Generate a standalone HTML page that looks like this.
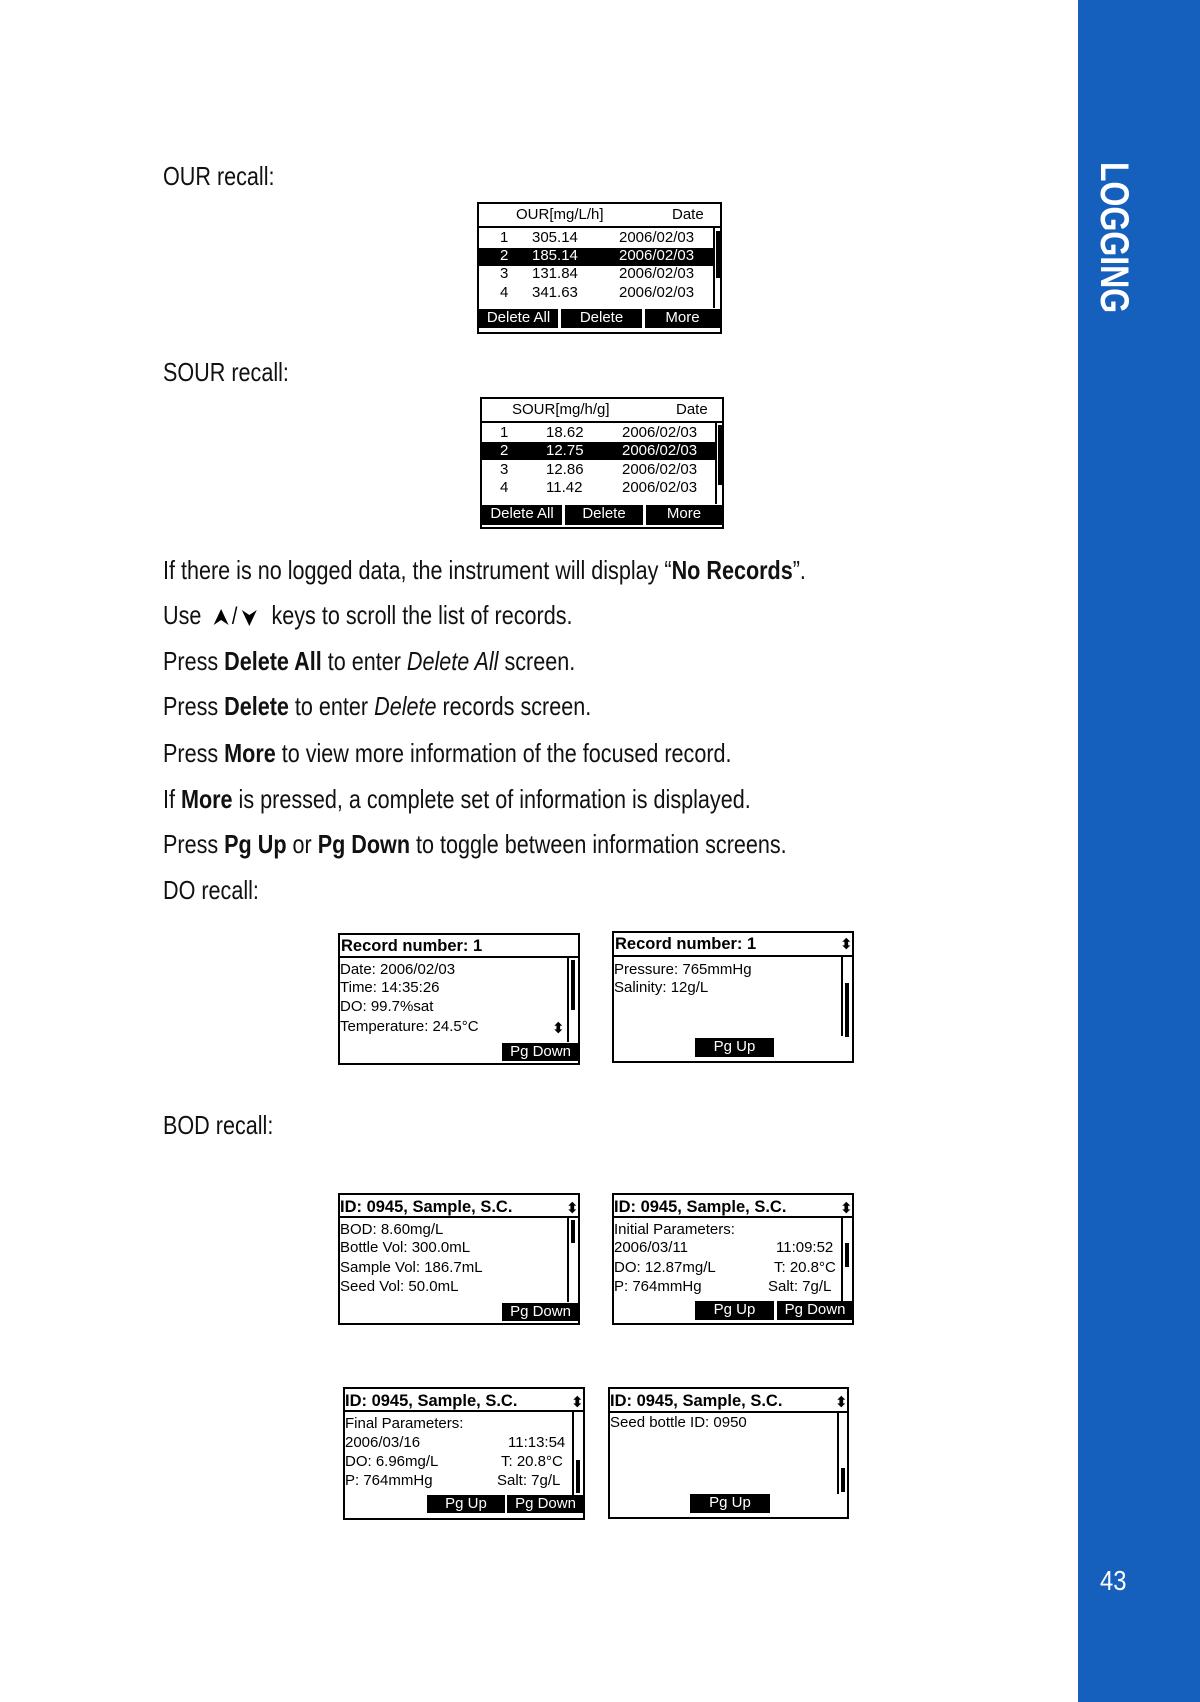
<!DOCTYPE html>
<html><head><meta charset="utf-8"><style>
*{margin:0;padding:0;box-sizing:border-box}
body{width:1200px;height:1702px;position:relative;background:#fff;overflow:hidden;font-family:"Liberation Sans",sans-serif;color:#111}
.a{position:absolute;white-space:nowrap}
.t{font-size:26px;line-height:30px;left:163px;transform:scaleX(0.83);transform-origin:0 0}
.t b{font-weight:bold}
.bx{position:absolute;border:2px solid #000;background:#fff}
.hl{position:absolute;height:2px;background:#000}
.vl{position:absolute;width:2px;background:#000}
.blk{position:absolute;background:#000}
.l{position:absolute;white-space:nowrap;font-family:"Liberation Sans",sans-serif;font-size:15px;line-height:18px;color:#000}
.h{position:absolute;white-space:nowrap;font-family:"Liberation Sans",sans-serif;font-weight:bold;font-size:16.5px;line-height:20px;color:#000}
.w{color:#fff}
.btn{position:absolute;background:#000;color:#fff;font-family:"Liberation Sans",sans-serif;font-size:15px;text-align:center;line-height:18px;white-space:nowrap}
.ar{position:absolute;font-family:"DejaVu Sans",sans-serif;font-size:15px;line-height:14px;color:#000;font-weight:bold}
</style></head><body>
<div style="position:absolute;left:1078px;top:0;width:122px;height:1702px;background:#1560bd"></div>
<div class="a" style="left:1094px;top:162px;writing-mode:vertical-rl;font-family:'Liberation Sans',sans-serif;font-weight:bold;font-size:40px;line-height:40px;color:#fff;transform:scaleY(0.8);transform-origin:0 0">LOGGING</div>
<div class="a" style="left:1100px;top:1565px;font-size:28px;line-height:32px;color:#fff;transform:scaleX(0.85);transform-origin:0 0">43</div>

<div class="a t" style="top:161px">OUR recall:</div>
<div class="a t" style="top:357px">SOUR recall:</div>
<div class="a t" style="top:555px">If there is no logged data, the instrument will display “<b>No Records</b>”.</div>
<div class="a t" style="top:600px">Use <svg width="70" height="22" viewBox="0 0 70 22" style="vertical-align:-3px"><path d="M8 20 L17 4 L26 20 L17 15 Z" fill="#000"/><text x="30" y="19" font-size="24" font-family="Liberation Sans">/</text><path d="M42 5 L51 21 L60 5 L51 10 Z" fill="#000"/></svg> keys to scroll the list of records.</div>
<div class="a t" style="top:646px">Press <b>Delete All</b> to enter <i>Delete All</i> screen.</div>
<div class="a t" style="top:691px">Press <b>Delete</b> to enter <i>Delete</i> records screen.</div>
<div class="a t" style="top:738px">Press <b>More</b> to view more information of the focused record.</div>
<div class="a t" style="top:784px">If <b>More</b> is pressed, a complete set of information is displayed.</div>
<div class="a t" style="top:829px">Press <b>Pg Up</b> or <b>Pg Down</b> to toggle between information screens.</div>
<div class="a t" style="top:875px">DO recall:</div>
<div class="a t" style="top:1110px">BOD recall:</div>

<!-- OUR -->
<div class="bx" style="left:477px;top:202px;width:245px;height:132px"></div>
<div class="hl" style="left:477px;top:226px;width:245px"></div>
<div class="l" style="left:516px;top:206px">OUR[mg/L/h]</div>
<div class="l" style="left:672px;top:206px">Date</div>
<div class="blk" style="left:479px;top:248px;width:234px;height:18px"></div>
<div class="vl" style="left:713px;top:228px;height:80px"></div>
<div class="blk" style="left:716px;top:231px;width:4px;height:47px"></div>
<div class="l" style="left:500px;top:229px">1</div><div class="l" style="left:532px;top:229px">305.14</div><div class="l" style="left:619px;top:229px">2006/02/03</div>
<div class="l w" style="left:500px;top:247px">2</div><div class="l w" style="left:532px;top:247px">185.14</div><div class="l w" style="left:619px;top:247px">2006/02/03</div>
<div class="l" style="left:500px;top:265px">3</div><div class="l" style="left:532px;top:265px">131.84</div><div class="l" style="left:619px;top:265px">2006/02/03</div>
<div class="l" style="left:500px;top:284px">4</div><div class="l" style="left:532px;top:284px">341.63</div><div class="l" style="left:619px;top:284px">2006/02/03</div>
<div class="btn" style="left:479px;top:309px;width:79px;height:19px">Delete All</div>
<div class="btn" style="left:561px;top:309px;width:81px;height:19px">Delete</div>
<div class="btn" style="left:645px;top:309px;width:75px;height:19px">More</div>

<!-- SOUR -->
<div class="bx" style="left:480px;top:397px;width:244px;height:132px"></div>
<div class="hl" style="left:480px;top:421px;width:244px"></div>
<div class="l" style="left:512px;top:401px">SOUR[mg/h/g]</div>
<div class="l" style="left:676px;top:401px">Date</div>
<div class="blk" style="left:482px;top:442px;width:233px;height:18px"></div>
<div class="vl" style="left:715px;top:423px;height:81px"></div>
<div class="blk" style="left:718px;top:425px;width:4px;height:60px"></div>
<div class="l" style="left:500px;top:424px">1</div><div class="l" style="left:546px;top:424px">18.62</div><div class="l" style="left:622px;top:424px">2006/02/03</div>
<div class="l w" style="left:500px;top:442px">2</div><div class="l w" style="left:546px;top:442px">12.75</div><div class="l w" style="left:622px;top:442px">2006/02/03</div>
<div class="l" style="left:500px;top:461px">3</div><div class="l" style="left:546px;top:461px">12.86</div><div class="l" style="left:622px;top:461px">2006/02/03</div>
<div class="l" style="left:500px;top:479px">4</div><div class="l" style="left:546px;top:479px">11.42</div><div class="l" style="left:622px;top:479px">2006/02/03</div>
<div class="btn" style="left:482px;top:505px;width:80px;height:20px">Delete All</div>
<div class="btn" style="left:565px;top:505px;width:78px;height:20px">Delete</div>
<div class="btn" style="left:646px;top:505px;width:76px;height:20px">More</div>

<!-- DO 1 -->
<div class="bx" style="left:338px;top:933px;width:242px;height:132px"></div>
<div class="hl" style="left:338px;top:956px;width:242px"></div>
<div class="h" style="left:341px;top:936px">Record number: 1</div>
<div class="vl" style="left:567px;top:957px;height:85px"></div>
<div class="blk" style="left:571px;top:960px;width:4px;height:50px"></div>
<div class="l" style="left:340px;top:961px">Date: 2006/02/03</div>
<div class="l" style="left:340px;top:979px">Time: 14:35:26</div>
<div class="l" style="left:340px;top:998px">DO: 99.7%sat</div>
<div class="l" style="left:340px;top:1018px">Temperature: 24.5°C</div>
<div class="ar" style="left:552px;top:1021px">⬍</div>
<div class="btn" style="left:502px;top:1043px;width:77px;height:18px">Pg Down</div>

<!-- DO 2 -->
<div class="bx" style="left:612px;top:931px;width:242px;height:132px"></div>
<div class="hl" style="left:612px;top:955px;width:242px"></div>
<div class="h" style="left:615px;top:934px">Record number: 1</div>
<div class="ar" style="left:840px;top:937px">⬍</div>
<div class="vl" style="left:841px;top:956px;height:80px"></div>
<div class="blk" style="left:845px;top:983px;width:4px;height:54px"></div>
<div class="l" style="left:614px;top:961px">Pressure: 765mmHg</div>
<div class="l" style="left:614px;top:979px">Salinity: 12g/L</div>
<div class="btn" style="left:695px;top:1038px;width:79px;height:19px">Pg Up</div>

<!-- BOD 1 -->
<div class="bx" style="left:338px;top:1193px;width:242px;height:132px"></div>
<div class="hl" style="left:338px;top:1216px;width:242px"></div>
<div class="h" style="left:340px;top:1197px">ID: 0945, Sample, S.C.</div>
<div class="ar" style="left:566px;top:1201px">⬍</div>
<div class="vl" style="left:567px;top:1217px;height:85px"></div>
<div class="blk" style="left:571px;top:1220px;width:4px;height:23px"></div>
<div class="l" style="left:340px;top:1221px">BOD: 8.60mg/L</div>
<div class="l" style="left:340px;top:1239px">Bottle Vol: 300.0mL</div>
<div class="l" style="left:340px;top:1259px">Sample Vol: 186.7mL</div>
<div class="l" style="left:340px;top:1278px">Seed Vol: 50.0mL</div>
<div class="btn" style="left:502px;top:1303px;width:77px;height:18px">Pg Down</div>

<!-- BOD 2 -->
<div class="bx" style="left:612px;top:1193px;width:242px;height:132px"></div>
<div class="hl" style="left:612px;top:1216px;width:242px"></div>
<div class="h" style="left:614px;top:1197px">ID: 0945, Sample, S.C.</div>
<div class="ar" style="left:840px;top:1201px">⬍</div>
<div class="vl" style="left:841px;top:1217px;height:84px"></div>
<div class="blk" style="left:845px;top:1243px;width:4px;height:24px"></div>
<div class="l" style="left:614px;top:1221px">Initial Parameters:</div>
<div class="l" style="left:614px;top:1239px">2006/03/11</div><div class="l" style="left:776px;top:1239px">11:09:52</div>
<div class="l" style="left:614px;top:1259px">DO: 12.87mg/L</div><div class="l" style="left:774px;top:1259px">T: 20.8°C</div>
<div class="l" style="left:614px;top:1278px">P: 764mmHg</div><div class="l" style="left:768px;top:1278px">Salt: 7g/L</div>
<div class="btn" style="left:695px;top:1301px;width:79px;height:19px">Pg Up</div>
<div class="btn" style="left:777px;top:1301px;width:76px;height:19px">Pg Down</div>

<!-- BOD 3 -->
<div class="bx" style="left:343px;top:1387px;width:242px;height:133px"></div>
<div class="hl" style="left:343px;top:1410px;width:242px"></div>
<div class="h" style="left:345px;top:1391px">ID: 0945, Sample, S.C.</div>
<div class="ar" style="left:571px;top:1395px">⬍</div>
<div class="vl" style="left:572px;top:1411px;height:84px"></div>
<div class="blk" style="left:576px;top:1460px;width:4px;height:33px"></div>
<div class="l" style="left:345px;top:1415px">Final Parameters:</div>
<div class="l" style="left:345px;top:1434px">2006/03/16</div><div class="l" style="left:508px;top:1434px">11:13:54</div>
<div class="l" style="left:345px;top:1453px">DO: 6.96mg/L</div><div class="l" style="left:501px;top:1453px">T: 20.8°C</div>
<div class="l" style="left:345px;top:1472px">P: 764mmHg</div><div class="l" style="left:497px;top:1472px">Salt: 7g/L</div>
<div class="btn" style="left:427px;top:1495px;width:78px;height:18px">Pg Up</div>
<div class="btn" style="left:507px;top:1495px;width:77px;height:18px">Pg Down</div>

<!-- BOD 4 -->
<div class="bx" style="left:608px;top:1387px;width:241px;height:132px"></div>
<div class="hl" style="left:608px;top:1411px;width:241px"></div>
<div class="h" style="left:610px;top:1391px">ID: 0945, Sample, S.C.</div>
<div class="ar" style="left:835px;top:1395px">⬍</div>
<div class="vl" style="left:837px;top:1412px;height:82px"></div>
<div class="blk" style="left:841px;top:1468px;width:4px;height:24px"></div>
<div class="l" style="left:610px;top:1414px">Seed bottle ID: 0950</div>
<div class="btn" style="left:690px;top:1494px;width:80px;height:19px">Pg Up</div>
</body></html>
